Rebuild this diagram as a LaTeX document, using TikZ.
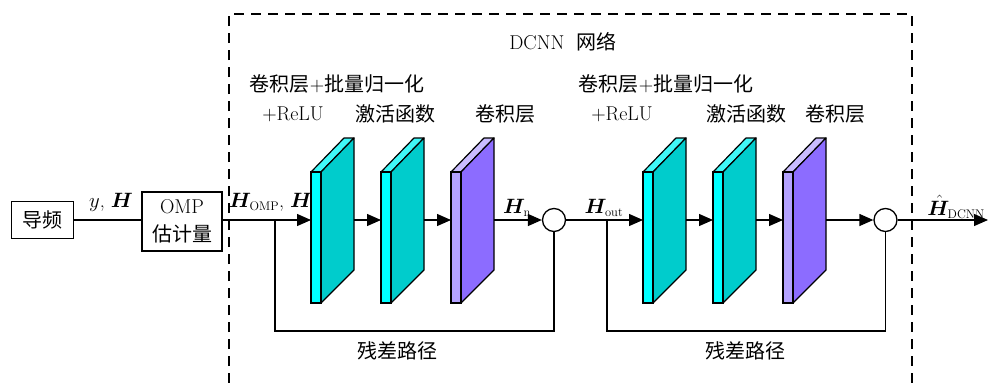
\documentclass[tikz,border=0pt]{standalone}
\usepackage{fontspec}
\usepackage{amsmath,bm}
\newfontfamily\cjk{Noto Sans CJK SC}
\usetikzlibrary{arrows.meta}
\definecolor{cyfront}{HTML}{00FFFF}
\definecolor{cyside}{HTML}{00CCCC}
\definecolor{cytop}{HTML}{40F8F8}
\definecolor{pufront}{HTML}{B4A2FF}
\definecolor{puside}{HTML}{8C6CFF}
\definecolor{putop}{HTML}{C9BCFF}
\newcommand\subtxt[1]{\mbox{\fontsize{12.5}{13}\selectfont #1}}
\tikzset{
  wire/.style={line width=1.3pt},
  arr/.style={wire,-{Triangle[length=14pt,width=12pt]}},
  boxn/.style={draw,line width=1.3pt,inner sep=0pt,align=center},
  lbl/.style={inner sep=0pt,font=\fontsize{20}{24}\selectfont},
  sumn/.style={draw,circle,line width=1.3pt,minimum size=23pt,inner sep=0pt},
}
\newcommand\layerbox[4]{% x, front, side, top
  \filldraw[fill=#4,line width=1.2pt,line join=round] (#1,172) -- (#1+33,138) -- (#1+43,138) -- (#1+10,172) -- cycle;
  \filldraw[fill=#3,line width=1.2pt,line join=round] (#1+10,172) -- (#1+43,138) -- (#1+43,270) -- (#1+10,303) -- cycle;
  \filldraw[fill=#2,line width=1.2pt] (#1,172) rectangle (#1+10,303);
}
\begin{document}
\begin{tikzpicture}[x=1pt,y=-1pt]
\useasboundingbox (0,0) rectangle (989,383);
% dashed DCNN frame
\draw[line width=1.3pt,dash pattern=on 10pt off 7pt] (229,383) -- (229,14) -- (912,14) -- (912,383);
\node[lbl] (title) at (563,42) {DCNN\ \ {\cjk 网络}};
% top labels
\node[lbl] (t1) at (337,84) {{\cjk 卷积层}+{\cjk 批量归一化}};
\node[lbl] (t2) at (293,114) {+ReLU};
\node[lbl] (t3) at (395,114) {\cjk 激活函数};
\node[lbl] (t4) at (505,114) {\cjk 卷积层};
\node[lbl] (t5) at (666,84) {{\cjk 卷积层}+{\cjk 批量归一化}};
\node[lbl] (t6) at (622,114) {+ReLU};
\node[lbl] (t7) at (746,114) {\cjk 激活函数};
\node[lbl] (t8) at (835,114) {\cjk 卷积层};
% input boxes
\node[boxn,minimum width=62pt,minimum height=37pt,font=\fontsize{20}{24}\selectfont\cjk] (pilot) at (42.5,220) {导频};
\node[boxn,minimum width=80pt,minimum height=59pt,font=\fontsize{20}{28}\selectfont] (omp) at (182,221.5) {OMP\\{\cjk 估计量}};
% layers
\layerbox{311}{cyfront}{cyside}{cytop}
\layerbox{381}{cyfront}{cyside}{cytop}
\layerbox{451}{pufront}{puside}{putop}
\layerbox{643}{cyfront}{cyside}{cytop}
\layerbox{713}{cyfront}{cyside}{cytop}
\layerbox{783}{pufront}{puside}{putop}
\foreach \n/\x in {1/311,2/381,3/451,4/643,5/713,6/783}{
  \coordinate (in\n) at (\x,220);
  \coordinate (out\n) at (\x+43,220);
}
% summation nodes
\node[sumn] (s1) at (554,220) {};
\node[sumn] (s2) at (885.5,220) {};
\coordinate (b1) at (275,220);
\coordinate (b2) at (607,220);
\coordinate (r1) at (275,331);
\coordinate (r2) at (607,331);
\coordinate (outend) at (988,220);
% connectors
\draw[wire] (pilot.east) -- (omp.west |- pilot.east);
\draw[arr] (omp.east |- b1) -- (in1);
\draw[arr] (out1) -- (in2);
\draw[arr] (out2) -- (in3);
\draw[arr] (out3) -- (s1.west);
\draw[arr] (s1.east) -- (in4);
\draw[arr] (out4) -- (in5);
\draw[arr] (out5) -- (in6);
\draw[arr] (out6) -- (s2.west);
\draw[arr] (s2.east) -- (outend);
\draw[wire] (b1) -- (r1) -| (s1.south);
\draw[wire] (b2) -- (r2) -| (s2.south);
% signal labels
\node[lbl] (ly) at (111,202) {$y$, $\bm{H}$};
\node[lbl,anchor=west] (lomp) at (229,202) {$\bm{H}_{\subtxt{OMP}}$, $\bm{H}$};
\node[lbl] (ln) at (517,208) {$\bm{H}_{\subtxt{n}}$};
\node[lbl] (lout) at (604,208) {$\bm{H}_{\subtxt{out}}$};
\node[lbl] (ldcnn) at (956,207) {$\hat{\bm{H}}_{\subtxt{DCNN}}$};
\node[lbl,font=\fontsize{20}{24}\selectfont\cjk] (res1) at (397,351) {残差路径};
\node[lbl,font=\fontsize{20}{24}\selectfont\cjk] (res2) at (745,351) {残差路径};
\end{tikzpicture}
\end{document}
